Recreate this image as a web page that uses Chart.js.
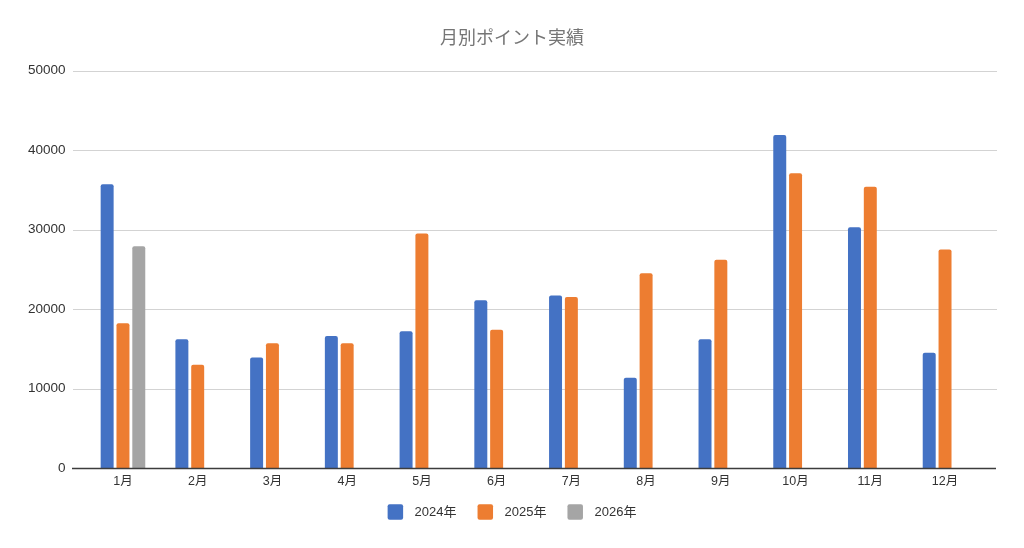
<!DOCTYPE html>
<html>
<head>
<meta charset="utf-8">
<script src="https://cdn.jsdelivr.net/npm/chart.js@4"></script>
<style>
  html, body { margin: 0; padding: 0; background: #ffffff; }
  #wrap { width: 1024px; height: 548px; }
</style>
</head>
<body>
<div id="wrap"><canvas id="c" width="1024" height="548"></canvas></div>
<script>
const categories = ["1月","2月","3月","4月","5月","6月","7月","8月","9月","10月","11月","12月"];
const seriesNames = ["2024年","2025年","2026年"];
const values2024 = [35700,16200,13900,16600,17200,21100,21700,11350,16200,41900,30300,14500];
const values2025 = [18200,13000,15700,15700,29500,17400,21500,24500,26200,37100,35400,27500];
const values2026 = [27900,null,null,null,null,null,null,null,null,null,null,null];
const yTicks = [0,10000,20000,30000,40000,50000];
const colors = ["#4472C4","#ED7D31","#A5A5A5"];

const FONT = '"Liberation Sans", "Noto Sans CJK JP", sans-serif';

const gridPlugin = {
  id: 'extGrid',
  beforeDatasetsDraw(chart) {
    const y = chart.scales.y;
    const ctx = chart.ctx;
    ctx.save();
    ctx.strokeStyle = '#d3d3d3';
    ctx.lineWidth = 1;
    yTicks.forEach(v => {
      if (v === 0) return;
      const py = Math.round(y.getPixelForValue(v)) + 0.5;
      ctx.beginPath();
      ctx.moveTo(73, py);
      ctx.lineTo(997, py);
      ctx.stroke();
    });
    ctx.restore();
  },
  afterDatasetsDraw(chart) {
    const y = chart.scales.y;
    const ctx = chart.ctx;
    ctx.save();
    ctx.strokeStyle = '#3c3c3c';
    ctx.lineWidth = 1.3;
    const py = y.getPixelForValue(0) + 0.5;
    ctx.beginPath();
    ctx.moveTo(72, py);
    ctx.lineTo(996, py);
    ctx.stroke();
    ctx.restore();
  }
};

// Legend drawn from the chart's own datasets (labels + colours)
const legendPlugin = {
  id: 'bottomLegend',
  afterDraw(chart) {
    const ctx = chart.ctx;
    const ds = chart.data.datasets;
    const box = 15.5, gapText = 11.5, gapItem = 21, cy = 512;
    ctx.save();
    ctx.font = '13px ' + FONT;
    ctx.textBaseline = 'middle';
    ctx.textAlign = 'left';
    const widths = ds.map(d => ctx.measureText(d.label).width);
    const total = widths.reduce((a, w) => a + box + gapText + w, 0) + gapItem * (ds.length - 1);
    let x = chart.width / 2 - total / 2;
    ds.forEach((d, i) => {
      ctx.fillStyle = d.backgroundColor;
      ctx.beginPath();
      if (ctx.roundRect) ctx.roundRect(x, cy - box / 2, box, box, 2);
      else ctx.rect(x, cy - box / 2, box, box);
      ctx.fill();
      ctx.fillStyle = '#333333';
      ctx.fillText(d.label, x + box + gapText, cy + 0.5);
      x += box + gapText + widths[i] + gapItem;
    });
    ctx.restore();
  }
};

const datasetsSrc = [values2024, values2025, values2026];
new Chart(document.getElementById('c'), {
  type: 'bar',
  data: {
    labels: categories,
    datasets: datasetsSrc.map((vals, i) => ({
      label: seriesNames[i],
      data: vals,
      backgroundColor: colors[i],
      borderRadius: 2,
      borderSkipped: 'bottom',
      barPercentage: 0.82,
      categoryPercentage: 0.635
    }))
  },
  options: {
    responsive: false,
    animation: false,
    devicePixelRatio: 1,
    layout: { padding: { left: 0, right: 0, top: 0, bottom: 53 } },
    plugins: {
      title: {
        display: true,
        text: '月別ポイント実績',
        color: '#757575',
        font: { family: '"Noto Sans CJK JP", sans-serif', size: 18, weight: 'normal' },
        padding: { top: 26, bottom: 23 }
      },
      legend: { display: false },
      tooltip: { enabled: false }
    },
    scales: {
      x: {
        grid: { display: false, drawTicks: false },
        border: { display: false },
        ticks: { color: '#333333', font: { family: FONT, size: 12.5 }, padding: 6 }
      },
      y: {
        min: 0,
        max: 50000,
        afterFit(scale) { scale.width = 85.6; },
        afterBuildTicks(scale) { scale.ticks = yTicks.map(v => ({ value: v })); },
        grid: { display: false, drawTicks: false },
        border: { display: false },
        ticks: {
          color: '#333333',
          font: { family: FONT, size: 13.5 },
          padding: 20,
          callback: (v) => String(v)
        }
      },
      yRight: {
        type: 'linear',
        position: 'right',
        display: true,
        afterFit(scale) { scale.width = 41.6; },
        grid: { display: false, drawTicks: false },
        border: { display: false },
        ticks: { display: false }
      }
    }
  },
  plugins: [gridPlugin, legendPlugin]
});
</script>
</body>
</html>
